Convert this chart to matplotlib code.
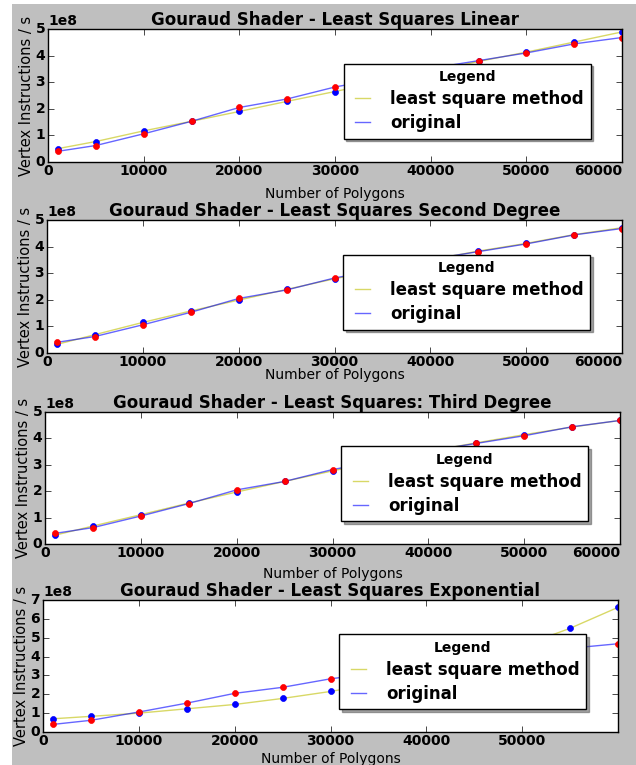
import matplotlib
matplotlib.use('Agg')
import matplotlib.pyplot as plt
from matplotlib.patches import Rectangle

# number of polygons in each test scene
polygons = [1000, 5000, 10000, 15000, 20000, 25000, 30000,
            35000, 40000, 45000, 50000, 55000, 60000]

# measured vertex throughput (x 1e8 instructions / s)
original = [0.40, 0.62, 1.06, 1.53, 2.05, 2.37, 2.82,
            3.15, 3.52, 3.81, 4.10, 4.44, 4.68]

# fitted curves (x 1e8)
linear_fit = [0.50, 0.77, 1.17, 1.53, 1.90, 2.28, 2.65,
              3.03, 3.40, 3.78, 4.13, 4.51, 4.89]
second_fit = [0.32, 0.69, 1.15, 1.58, 1.99, 2.39, 2.79,
              3.14, 3.50, 3.83, 4.12, 4.45, 4.71]
third_fit = [0.33, 0.68, 1.11, 1.55, 1.97, 2.37, 2.77,
             3.14, 3.51, 3.83, 4.14, 4.43, 4.68]
exp_fit = [0.70, 0.83, 1.00, 1.23, 1.46, 1.78, 2.15,
           2.59, 3.13, 3.78, 4.56, 5.50, 6.61]

titles = ['Gouraud Shader - Least Squares Linear',
          'Gouraud Shader - Least Squares Second Degree',
          'Gouraud Shader - Least Squares: Third Degree',
          'Gouraud Shader - Least Squares Exponential']
fits = [linear_fit, second_fit, third_fit, exp_fit]
y_max = [5, 5, 5, 7]

plt.style.use('classic')
W, H = 636, 765
fig = plt.figure(figsize=(W / 100, H / 100), dpi=100, facecolor='white')
# gray window area (screenshot has a thin white strip at left/top)
fig.patches.append(Rectangle((12 / W, 0), 1, 1 - 4 / H, transform=fig.transFigure,
                             facecolor='0.75', edgecolor='none', zorder=-10))

# axes boxes in pixels: left, top, right, bottom
boxes = [(48, 29, 622, 162), (47, 220, 622, 353),
         (45, 412, 620, 544), (43, 600, 618, 732)]
xlabel_pads = [6.3, -0.7, 5, 3]

for i in range(4):
    l, t, r, b = boxes[i]
    ax = fig.add_axes([l / W, 1 - b / H, (r - l) / W, (b - t) / H])
    fit = [v * 1e8 for v in fits[i]]
    orig = [v * 1e8 for v in original]

    ax.plot(polygons, fit, color='y', alpha=0.6, lw=1, label='least square method')
    ax.plot(polygons, orig, color='b', alpha=0.6, lw=1, label='original')
    ax.plot(polygons, fit, 'bo', ms=4.3, mec='b', mew=0.5)
    ax.plot(polygons, orig, 'ro', ms=4.3, mec='r', mew=0.5)

    ax.set_xlim(0, 60000)
    ax.set_ylim(0, y_max[i] * 1e8)
    if i < 3:
        ax.set_xticks(range(0, 60001, 10000))
    else:
        ax.set_xticks(range(0, 50001, 10000))

    ax.set_title(titles[i], fontweight='bold', fontsize=12, pad=3)
    ax.set_xlabel('Number of Polygons', fontsize=10, labelpad=xlabel_pads[i])
    ax.set_ylabel('Vertex Instructions / s', fontsize=10.5, labelpad=1)

    ax.tick_params(labelsize=10)
    ax.tick_params(axis='x', pad=1.5)
    ax.tick_params(axis='y', pad=2)
    for lbl in ax.get_xticklabels() + ax.get_yticklabels():
        lbl.set_fontweight('bold')
    ax.yaxis.get_offset_text().set_fontweight('bold')
    ax.yaxis.get_offset_text().set_fontsize(10)
    if i < 3:
        ax.xaxis.get_major_ticks()[-1].label1.set_horizontalalignment('right')

    leg = ax.legend(loc='upper left', bbox_to_anchor=(0.515, 0.74), borderaxespad=0,
                    title='Legend', shadow=True, fancybox=False, handlelength=1.5,
                    handletextpad=0.9, labelspacing=0.35, borderpad=0.4,
                    prop={'weight': 'bold', 'size': 12})
    leg.get_title().set_fontweight('bold')
    leg.get_title().set_fontsize(10)

fig.savefig('out.png', dpi=100, facecolor=fig.get_facecolor())
